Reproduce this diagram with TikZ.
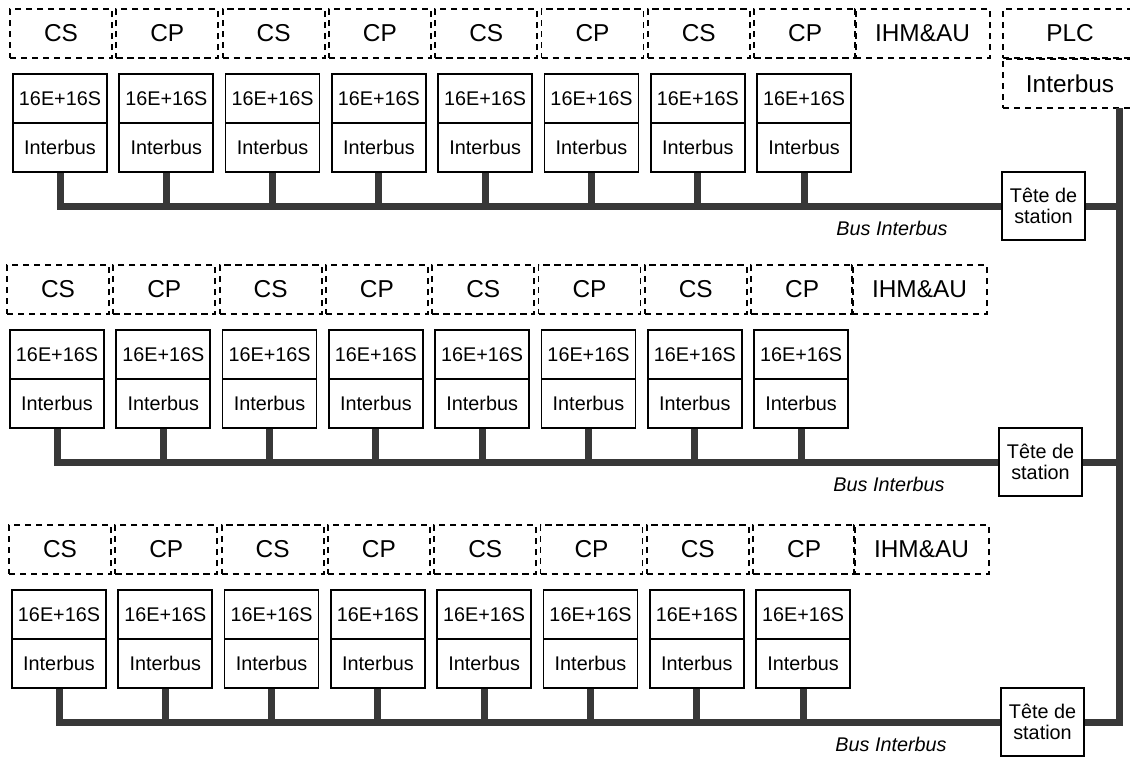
\documentclass[tikz,border=0pt]{standalone}
\usepackage{fontspec}
\setmainfont{Liberation Sans}
\tikzset{
  dashbox/.style={draw,dash pattern=on 3.2pt off 2.3pt,line width=0.9pt,minimum width=51pt,
    minimum height=24.5pt,inner sep=0pt,font=\fontsize{12.2}{14}\selectfont},
  modbox/.style={draw,line width=0.85pt,minimum width=47pt,minimum height=24.5pt,
    inner sep=0pt,font=\fontsize{9.9}{12}\selectfont},
  tetebox/.style={draw,line width=0.85pt,minimum width=41.5pt,minimum height=34pt,
    inner sep=0pt,align=center,font=\fontsize{9.9}{10.5}\selectfont},
  buslabel/.style={anchor=east,inner sep=0pt,font=\fontsize{9.9}{12}\selectfont\itshape},
  bus/.style={line width=3.5pt,black!78},
}
\begin{document}
\begin{tikzpicture}[x=0.5pt,y=-0.5pt]
  \useasboundingbox (0,0) rectangle (1130,757);
  % automate et tronc Interbus
  \node[dashbox,minimum width=67pt] (plc) at (1070,33.5) {PLC};
  \node[dashbox,minimum width=67pt] (plc-ib) at (1070,83.5) {Interbus};
  \coordinate (trunk) at (1119,108);
  % trois stations
  \foreach \r/\dx/\dy in {1/0/0,2/-3/256,3/-1/516} {
    \begin{scope}[shift={(\dx,\dy)}]
      \foreach \i/\lbl in {0/CS,1/CP,2/CS,3/CP,4/CS,5/CP,6/CS,7/CP} {
        \node[dashbox] (grp-\r-\i) at (61+106.3*\i,33.5) {\lbl};
        \node[modbox] (io-\r-\i) at (60+106.3*\i,98.5) {16E+16S};
        \node[modbox] (ib-\r-\i) at (60+106.3*\i,147.5) {Interbus};
      }
      \node[dashbox,minimum width=67.5pt] (ihm-\r) at (922.5,33.5) {IHM\&AU};
      \node[tetebox] (tete-\r) at (1043.5,206) {Tête de\\station};
      \draw[bus] (ib-\r-0.south) |- (tete-\r.west);
      \foreach \i in {1,...,7}
        \draw[bus] (ib-\r-\i.south) -- (ib-\r-\i.south |- tete-\r.west);
      \draw[bus] (tete-\r.east) -- (tete-\r.east -| trunk);
      \node[buslabel] (lbl-\r) at (948,228) {Bus Interbus};
    \end{scope}
  }
  \draw[bus] (trunk) -- ([yshift=-1.75pt]trunk |- tete-3.east);
\end{tikzpicture}
\end{document}
